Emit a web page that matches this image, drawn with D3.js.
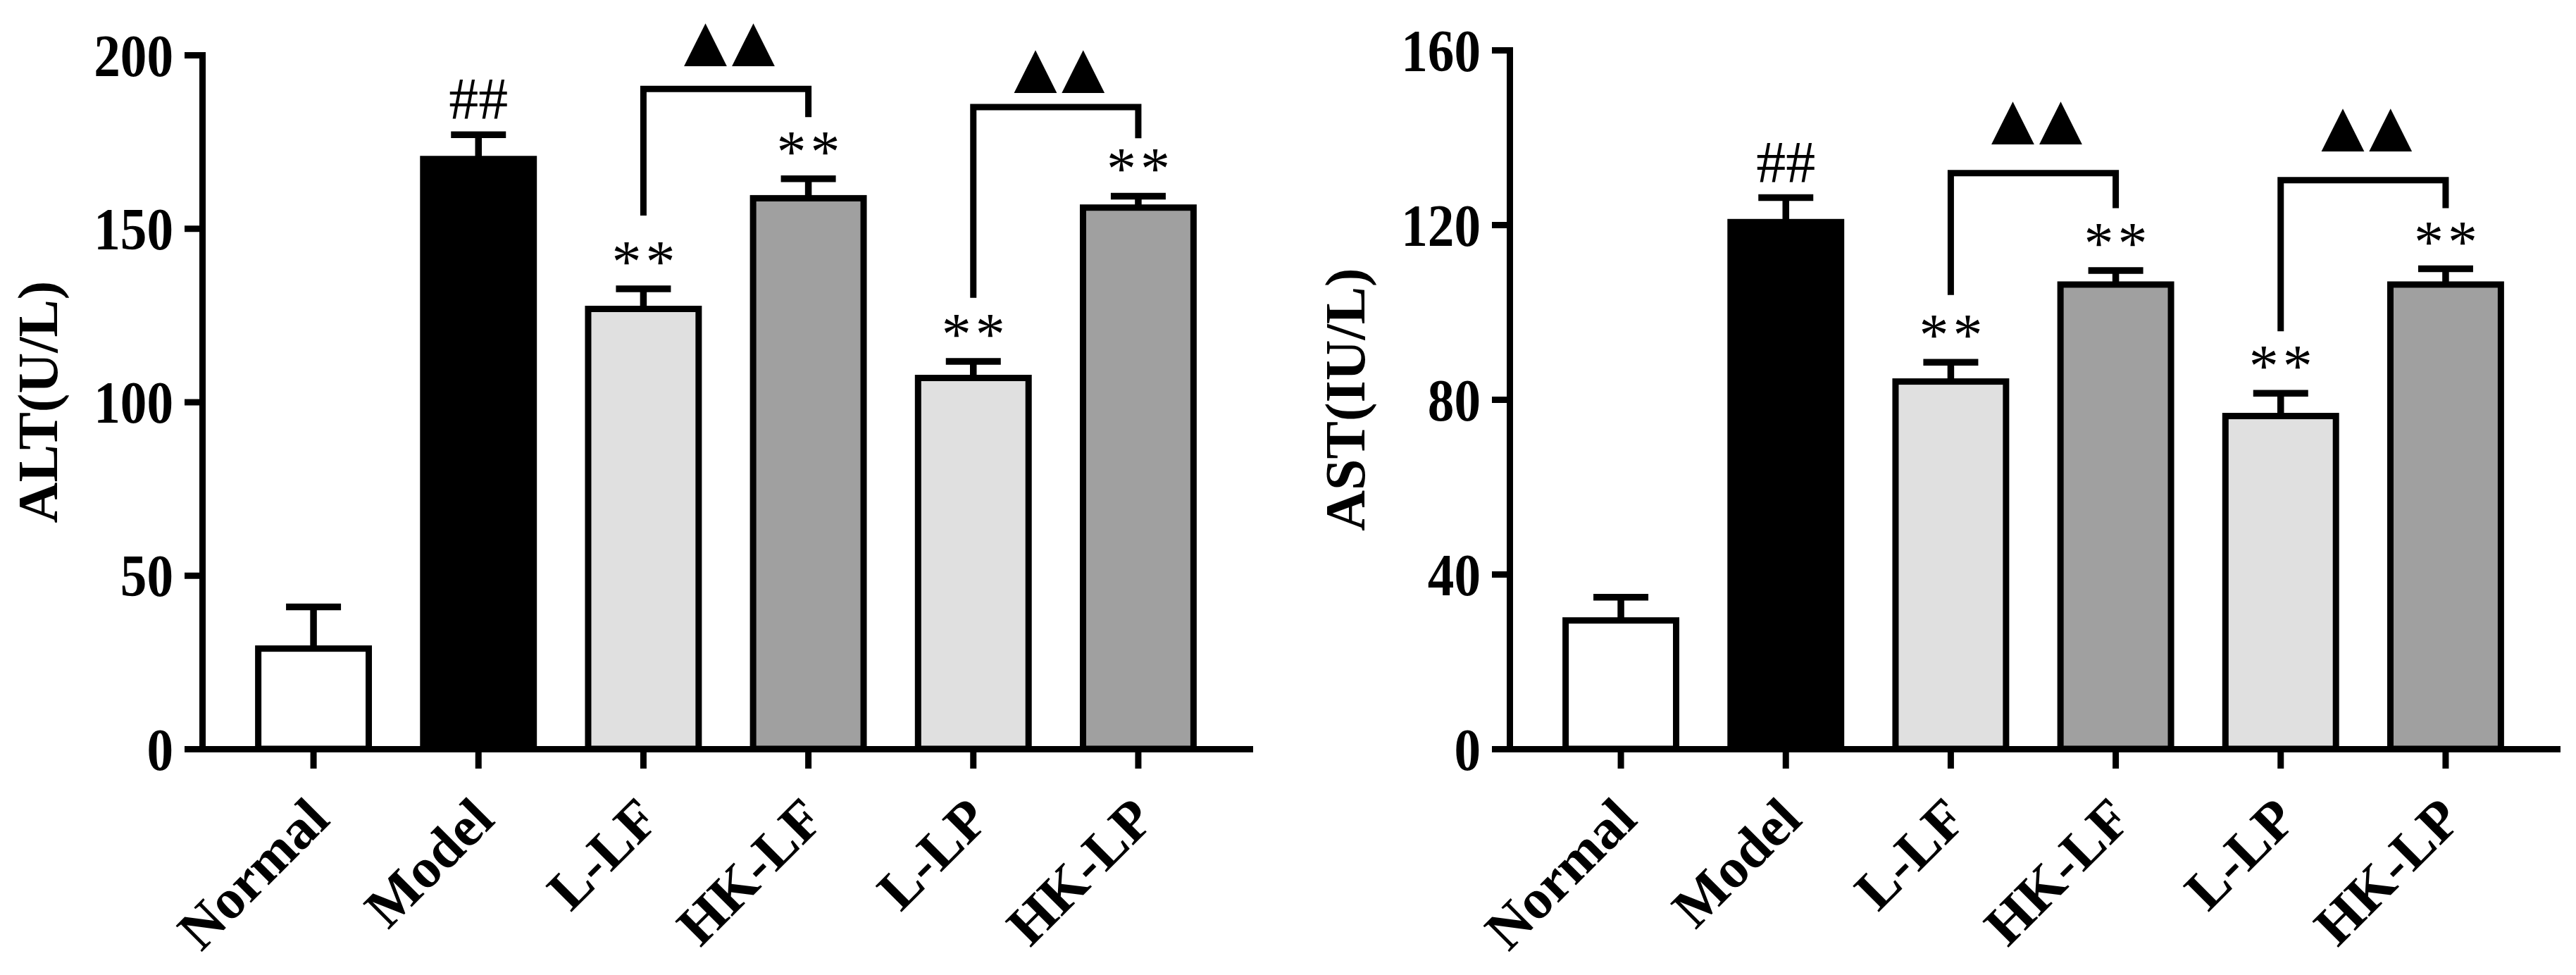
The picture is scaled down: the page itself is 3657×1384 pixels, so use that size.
<!DOCTYPE html>
<html>
<head>
<meta charset="utf-8">
<script src="https://cdn.jsdelivr.net/npm/d3@7"></script>
<style>
  body { margin: 0; background: #fff; }
</style>
</head>
<body>
<svg id="chart" width="3657" height="1384"></svg>
<script>
// groups on the x axis
const categories = ["Normal", "Model", "L-LF", "HK-LF", "L-LP", "HK-LP"];

// ALT panel (U/L): mean and upper error
const altMean = [28.9, 170, 126.8, 158.7, 106.9, 156];
const altErr = [12, 7, 5.8, 5.6, 4.8, 3.3];
const altTicks = [0, 50, 100, 150, 200];
// AST panel (IU/L)
const astMean = [29.4, 120.6, 84.1, 106.3, 76.2, 106.3];
const astErr = [5.3, 5.6, 4.4, 3.2, 5.2, 3.6];
const astTicks = [0, 40, 80, 120, 160];

// significance marks over each bar
const marks = ["", "##", "**", "**", "**", "**"];
// compared pairs, bracket level, where the legs stop, level of the triangles
const pairs = [["L-LF", "HK-LF"], ["L-LP", "HK-LP"]];
const altBracket = [190.2, 185];
const altLegs = [[153.7, 182.1], [130, 176]];
const altTri = [203.2, 195.6];
const astBracket = [131.8, 130.2];
const astLegs = [[103.9, 123.8], [95.6, 123.8]];
const astTri = [143.6, 142];

const fills = ["#ffffff", "#000000", "#e0e0e0", "#a0a0a0", "#e0e0e0", "#a0a0a0"];
const serif = "'Liberation Serif', 'Times New Roman', serif";
const sw = 9;

const svg = d3.select("#chart");

function drawPanel(p) {
  const x = d3.scaleBand().domain(categories)
    .range([p.left, p.right]).paddingInner(0.33).paddingOuter(0.34);
  const y = d3.scaleLinear().domain([0, p.max]).range([p.bottom, p.top]);
  const g = svg.append("g");
  const cx = d => x(d) + x.bandwidth() / 2;

  // bars
  g.selectAll("rect.bar").data(categories).join("rect")
    .attr("class", "bar")
    .attr("x", d => x(d))
    .attr("width", x.bandwidth())
    .attr("y", (d, i) => y(p.mean[i]))
    .attr("height", (d, i) => p.bottom - y(p.mean[i]))
    .attr("fill", (d, i) => fills[i])
    .attr("stroke", "#000")
    .attr("stroke-width", sw);

  // error bars (upper only)
  const eb = g.selectAll("g.err").data(categories).join("g").attr("class", "err")
    .attr("stroke", "#000").attr("stroke-width", sw + 0.5);
  eb.append("line")
    .attr("x1", cx).attr("x2", cx)
    .attr("y1", (d, i) => y(p.mean[i]))
    .attr("y2", (d, i) => y(p.mean[i] + p.err[i]));
  eb.append("line")
    .attr("x1", d => cx(d) - 39).attr("x2", d => cx(d) + 39)
    .attr("y1", (d, i) => y(p.mean[i] + p.err[i]))
    .attr("y2", (d, i) => y(p.mean[i] + p.err[i]));

  // marks
  g.selectAll("text.mark").data(categories).join("text")
    .attr("class", "mark")
    .attr("x", (d, i) => cx(d) + (marks[i] === "**" ? 3 : 0))
    .attr("y", (d, i) => y(p.mean[i] + p.err[i]) - 50 + (marks[i] === "##" ? 28 : 40))
    .attr("text-anchor", "middle")
    .attr("font-family", serif)
    .attr("font-size", 84)
    .attr("letter-spacing", (d, i) => marks[i] === "**" ? 6 : 0)
    .text((d, i) => marks[i]);

  // brackets with the two triangles above
  pairs.forEach((pr, k) => {
    const xa = cx(pr[0]), xb = cx(pr[1]);
    const mid = (xa + xb) / 2 + 5;
    g.append("path")
      .attr("d", `M${xa},${y(p.legs[k][0])}V${y(p.bracket[k])}H${xb}V${y(p.legs[k][1])}`)
      .attr("fill", "none")
      .attr("stroke", "#000")
      .attr("stroke-width", sw);
    const t = g.append("text")
      .attr("y", y(p.tri[k]))
      .attr("dy", "0.31em")
      .attr("font-family", serif)
      .attr("font-size", 104)
      .text("▲▲");
    // pull the two glyphs together so their centres sit 68px apart
    const adv = t.node().getSubStringLength(0, 1);
    t.attr("letter-spacing", 68 - adv)
      .attr("x", mid - 34 - adv / 2);
  });

  // y axis
  const ya = g.append("g")
    .attr("transform", `translate(${p.left},0)`)
    .call(d3.axisLeft(y).tickValues(p.ticks).tickSize(25).tickSizeOuter(0));
  // x axis
  const xa = g.append("g")
    .attr("transform", `translate(0,${p.bottom})`)
    .call(d3.axisBottom(x).tickSize(28).tickSizeOuter(0));

  [ya, xa].forEach(a => {
    a.attr("font-family", serif).attr("font-size", 80).attr("font-weight", "bold");
    a.select(".domain").attr("stroke-width", sw).attr("stroke-linecap", "square");
    a.selectAll(".tick line").attr("stroke-width", sw);
    a.selectAll("text").attr("fill", "#000");
  });
  // tick numbers are a little taller and narrower than plain Times
  ya.selectAll(".tick text")
    .attr("x", 0).attr("dy", "0.34em")
    .attr("transform", "translate(-41,0) scale(0.94,1.07)");
  xa.selectAll(".tick text")
    .attr("x", 0).attr("y", 0).attr("dy", "0.35em")
    .attr("text-anchor", "end")
    .attr("transform", "translate(6,84) rotate(-45)");

  // y title
  g.append("text")
    .attr("transform", `translate(${p.titleX},${(p.top + p.bottom) / 2}) rotate(-90)`)
    .attr("text-anchor", "middle")
    .attr("font-family", serif)
    .attr("font-size", 80)
    .attr("font-weight", "bold")
    .text(p.title);
}

drawPanel({
  left: 287, right: 1774, top: 78, bottom: 1063, max: 200,
  ticks: altTicks, title: "ALT(U/L)", titleX: 81,
  mean: altMean, err: altErr,
  bracket: altBracket, legs: altLegs, tri: altTri
});
drawPanel({
  left: 2143, right: 3630, top: 71, bottom: 1063, max: 160,
  ticks: astTicks, title: "AST(IU/L)", titleX: 1937,
  mean: astMean, err: astErr,
  bracket: astBracket, legs: astLegs, tri: astTri
});
</script>
</body>
</html>
